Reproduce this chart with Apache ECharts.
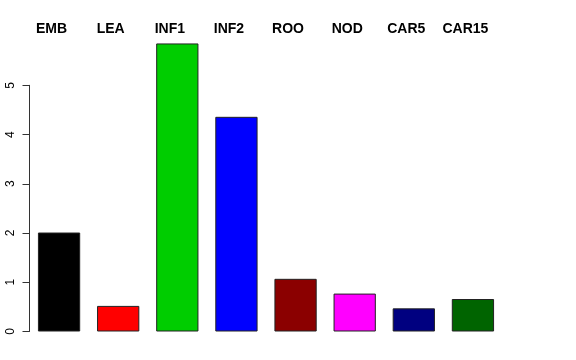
<!DOCTYPE html>
<html>
<head>
<meta charset="utf-8">
<script src="https://cdn.jsdelivr.net/npm/echarts@6/dist/echarts.min.js"></script>
<style>html,body{margin:0;padding:0;background:#fff}#c{width:576px;height:360px}</style>
</head>
<body>
<div id="c"></div>
<script>
const categories = ["EMB", "LEA", "INF1", "INF2", "ROO", "NOD", "CAR5", "CAR15"];
const values = [2.01, 0.52, 5.85, 4.36, 1.07, 0.77, 0.47, 0.66];
const barColors = ["#000000", "#FF0000", "#00CD00", "#0000FF", "#8B0000", "#FF00FF", "#000080", "#006400"];
const yTicks = [0, 1, 2, 3, 4, 5];

const chart = echarts.init(document.getElementById('c'), null, {renderer: 'canvas'});
chart.setOption({
  animation: false,
  backgroundColor: '#ffffff',
  textStyle: {fontFamily: 'Liberation Sans'},
  grid: {left: 29.5, right: 73.5, top: 85.3, bottom: 28.5},
  xAxis: {
    type: 'category',
    position: 'top',
    data: categories,
    offset: 49,
    axisLine: {show: false},
    axisTick: {show: false},
    axisLabel: {
      interval: 0,
      hideOverlap: false,
      margin: 0,
      color: '#000',
      fontWeight: 'bold',
      fontSize: 14,
      fontFamily: 'Liberation Sans',
      padding: [0, 15, 0, 0]
    }
  },
  yAxis: {
    type: 'value',
    min: yTicks[0],
    max: yTicks[yTicks.length - 1],
    interval: 1,
    splitLine: {show: false},
    axisLine: {show: true, lineStyle: {color: '#333', width: 1}},
    axisTick: {show: true, length: 7, lineStyle: {color: '#333'}},
    axisLabel: {
      rotate: 90,
      margin: 13,
      color: '#000',
      fontSize: 12,
      fontFamily: 'Liberation Sans'
    }
  },
  series: [{
    type: 'bar',
    clip: false,
    barCategoryGap: '28.5%',
    data: values.map((v, i) => ({
      value: v,
      itemStyle: {color: barColors[i]}
    })),
    itemStyle: {borderColor: '#222', borderWidth: 1}
  }]
});
</script>
</body>
</html>
